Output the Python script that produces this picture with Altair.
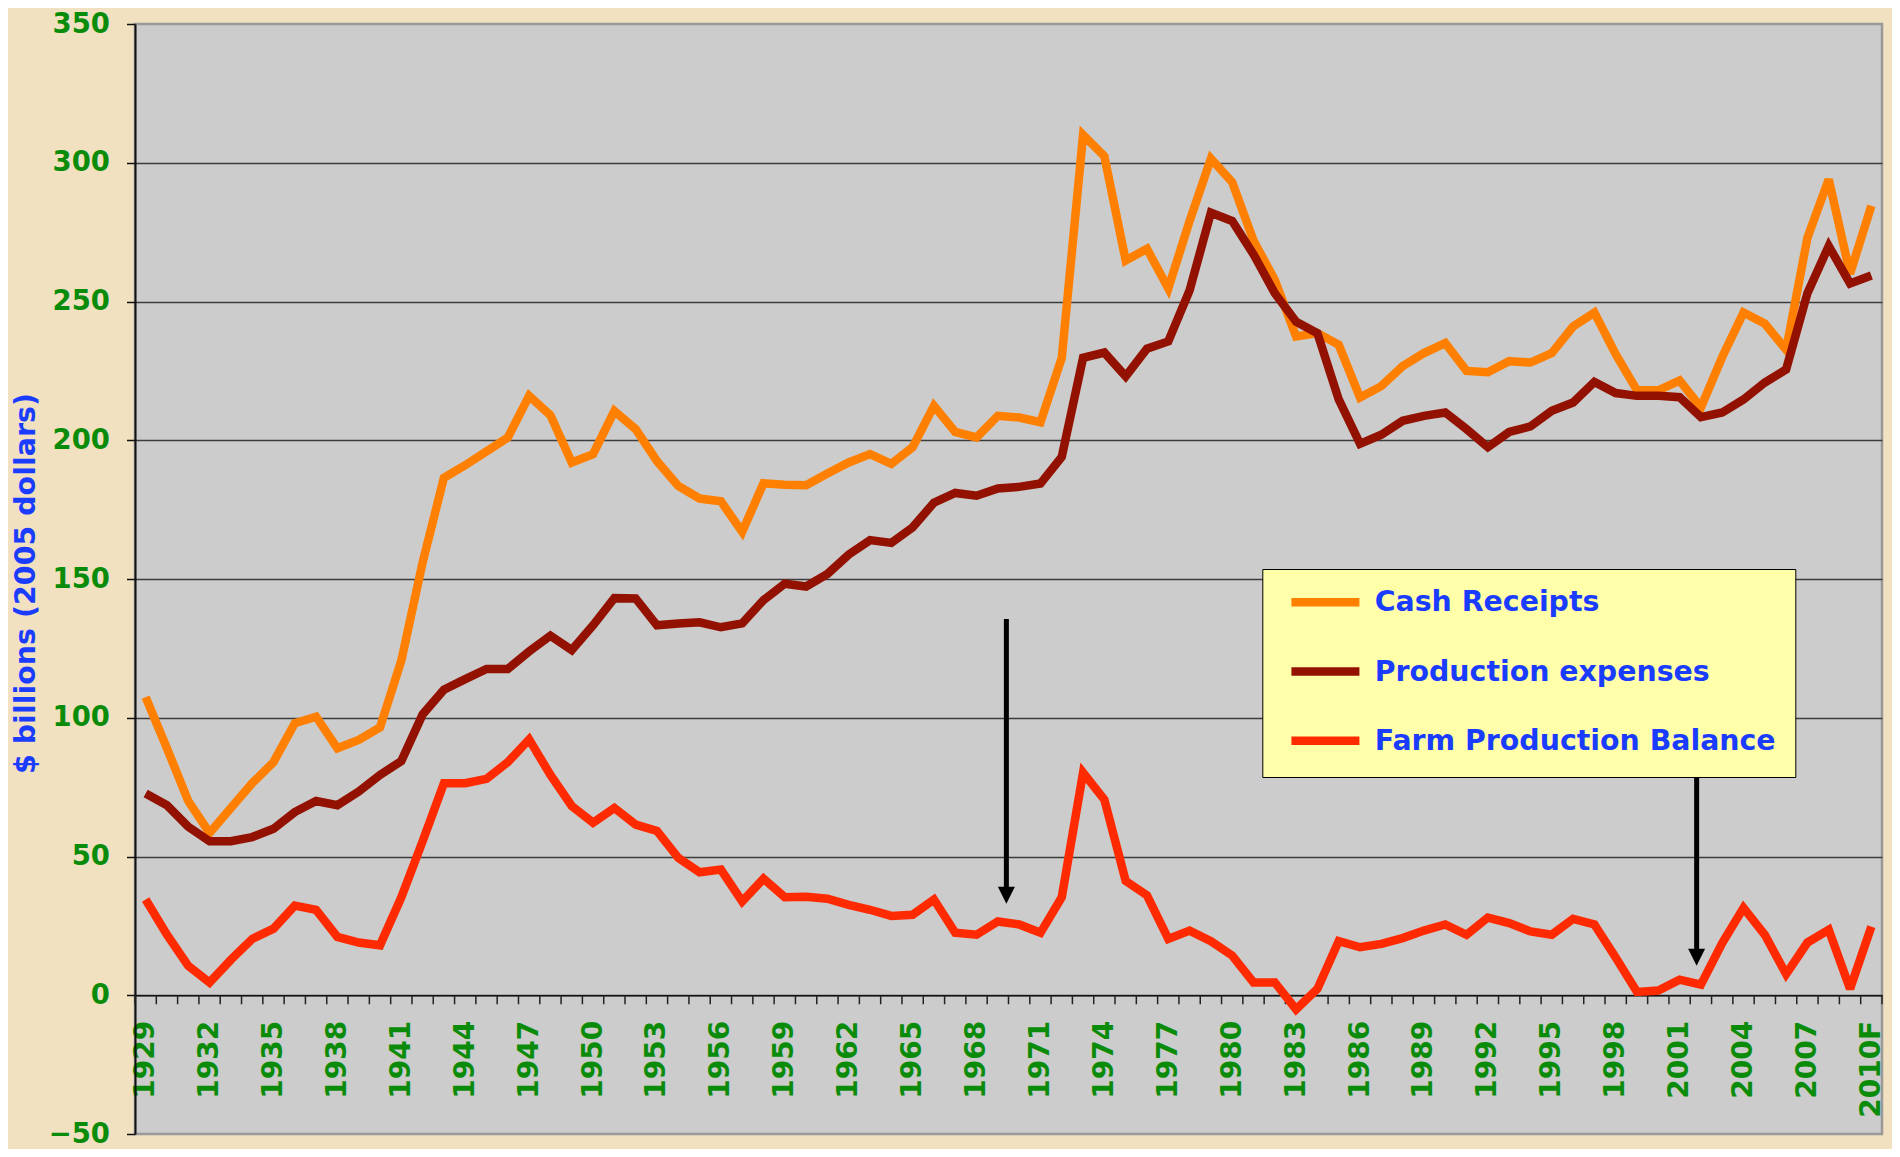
import altair as alt
import pandas as pd

# ---------------- data ----------------
years = list(range(1929, 2011))

cash_receipts = [
    107.4, 89.0, 70.0, 58.5, 67.5, 76.4, 84.0, 98.0, 100.4, 89.0,
    92.0, 96.5, 120.6, 156.0, 186.5, 191.0, 196.0, 201.0, 216.0, 209.0,
    192.0, 195.0, 210.5, 204.0, 192.5, 183.5, 179.0, 178.0, 167.0, 184.5,
    184.0, 183.8, 188.0, 192.0, 195.0, 191.5, 197.5, 212.4, 203.0, 201.0,
    208.8, 208.2, 206.5, 229.7, 310.0, 302.3, 264.8, 269.0, 254.7, 279.0,
    301.5, 293.0, 272.0, 257.7, 237.4, 238.6, 234.4, 215.4, 219.5, 226.7,
    231.4, 235.0, 225.0, 224.5, 228.5, 228.0, 231.4, 241.0, 246.0, 231.0,
    218.0, 218.0, 221.5, 211.8, 230.0, 246.0, 242.0, 232.6, 273.0, 294.0,
    260.0, 284.5,
]

production_expenses = [
    72.7, 68.5, 60.7, 55.5, 55.5, 57.0, 60.0, 66.0, 70.0, 68.5,
    73.4, 79.4, 84.4, 101.2, 110.1, 113.9, 117.6, 117.6, 123.9, 129.6,
    124.4, 133.3, 143.1, 143.0, 133.3, 134.0, 134.4, 132.6, 134.0, 142.4,
    148.3, 147.3, 151.8, 158.8, 164.0, 163.0, 168.6, 177.5, 181.0, 180.0,
    182.6, 183.2, 184.4, 194.0, 229.7, 231.6, 223.0, 233.0, 235.6, 254.0,
    282.0, 279.0, 267.0, 253.0, 242.7, 238.6, 214.7, 198.7, 202.0, 207.0,
    208.8, 210.0, 204.0, 197.5, 203.0, 205.0, 210.6, 213.6, 221.0, 217.0,
    216.0, 216.0, 215.5, 208.3, 210.0, 214.7, 220.8, 225.5, 253.0, 270.0,
    256.5, 259.4,
]

farm_balance = [
    34.5, 21.8, 10.6, 4.6, 12.8, 20.3, 24.0, 32.3, 30.8, 21.0,
    19.0, 18.0, 35.3, 55.5, 76.4, 76.4, 78.0, 84.0, 92.2, 79.4,
    68.2, 62.2, 67.5, 61.5, 59.2, 49.5, 44.3, 45.3, 33.8, 42.0,
    35.3, 35.5, 34.8, 32.6, 30.8, 28.6, 29.0, 34.5, 22.5, 21.8,
    26.6, 25.5, 22.5, 35.3, 80.2, 70.5, 41.2, 36.0, 20.3, 23.3,
    19.5, 14.3, 4.6, 4.6, -5.1, 2.3, 19.5, 17.3, 18.5, 20.6,
    23.3, 25.5, 21.8, 28.0, 26.0, 23.0, 21.8, 27.5, 25.5, 13.6,
    1.2, 1.7, 5.6, 3.8, 18.8, 31.5, 21.8, 7.6, 19.0, 23.6,
    2.3, 24.7,
]

series_names = ["Cash Receipts", "Production expenses", "Farm Production Balance"]
series_colors = ["#FF8000", "#931100", "#FF2A00"]

x_label_years = [1929, 1932, 1935, 1938, 1941, 1944, 1947, 1950, 1953, 1956,
                 1959, 1962, 1965, 1968, 1971, 1974, 1977, 1980, 1983, 1986,
                 1989, 1992, 1995, 1998, 2001, 2004, 2007, 2010]
x_label_text = [str(y) for y in x_label_years[:-1]] + ["2010F"]

y_ticks = [-50, 0, 50, 100, 150, 200, 250, 300, 350]

arrow_x = [1969.4, 2001.8]
arrow_top = [135.6, 78.4]
arrow_tip = [33.0, 10.6]

# ---------------- layout constants ----------------
W, H = 1747, 1110
FONT = "DejaVu Sans"
GREEN = "#0A8C0A"
BLUE = "#1A3CFF"

assert len(cash_receipts) == len(production_expenses) == len(farm_balance) == len(years)

rows = []
for name, vals in zip(series_names, [cash_receipts, production_expenses, farm_balance]):
    for yr, v in zip(years, vals):
        rows.append({"year": yr, "value": v, "series": name})
df = pd.DataFrame(rows)

arrows = pd.DataFrame({"year": arrow_x, "value": arrow_top, "tip": arrow_tip})

# category boundaries (Excel-style tick marks between the years)
bounds_df = pd.DataFrame({"year": [y - 0.5 for y in years] + [years[-1] + 0.5]})

pos_arr = "[" + ",".join(str(v) for v in x_label_years) + "]"
txt_arr = "[" + ",".join("'" + s + "'" for s in x_label_text) + "]"
label_expr = "indexof({p}, datum.value) >= 0 ? {t}[indexof({p}, datum.value)] : datum.label".format(
    p=pos_arr, t=txt_arr)

x_axis = alt.Axis(
    values=x_label_years, labelExpr=label_expr,
    labelAngle=270, labelFont=FONT, labelFontSize=28, labelFontWeight="bold",
    labelColor=GREEN, labelPadding=25, labelOverlap=False, labelFlush=False,
    labelBound=False, ticks=False,
    domainColor="#111111", domainWidth=1.5, grid=False, title=None,
    offset=-(H * 50 / 400),
)

y_axis = alt.Axis(
    values=y_ticks, labelFont=FONT, labelFontSize=27.5, labelFontWeight="bold",
    labelColor=GREEN, labelPadding=17, tickSize=8.5, tickColor="#111111",
    tickWidth=1.5, domainColor="#111111", domainWidth=2,
    grid=True,
    gridColor={"condition": {"test": "datum.value === 350 || datum.value === -50",
                             "value": "transparent"},
               "value": "#3c3c3c"},
    gridWidth=1.3,
    title="$ billions (2005 dollars)", titleFont=FONT, titleFontSize=28.5,
    titleFontWeight="bold", titleColor=BLUE, titleAngle=270,
    titleX=-109.5, titleY=559, titleAlign="center", titleBaseline="middle",
)

x_scale = alt.Scale(domain=[1928.5, 2010.5], nice=False, zero=False)
y_scale = alt.Scale(domain=[-50, 350], nice=False, zero=False)

lines = alt.Chart(df).mark_line(
    strokeWidth=8.5, strokeJoin="miter", strokeMiterLimit=3
).encode(
    x=alt.X("year:Q", scale=x_scale, axis=x_axis),
    y=alt.Y("value:Q", scale=y_scale, axis=y_axis),
    color=alt.Color(
        "series:N",
        scale=alt.Scale(domain=series_names, range=series_colors),
        sort=series_names,
        legend=alt.Legend(
            title=None, orient="none", legendX=1127.3, legendY=545,
            fillColor="#FFFFAA", strokeColor="#000000",
            padding=19, rowPadding=34.3, labelOffset=65,
            symbolType="M -0.48 0 L 7.52 0", symbolSize=289,
            symbolStrokeWidth=8.5, symbolOpacity=1,
            labelFont=FONT, labelFontSize=28.4, labelFontWeight="bold",
            labelColor=BLUE, labelLimit=0,
        ),
    ),
)

ticks = alt.Chart(bounds_df).mark_tick(
    orient="vertical", size=9, thickness=1.5, color="#222222", yOffset=4.5, opacity=1
).encode(
    x=alt.X("year:Q"),
    y=alt.datum(0),
)

shafts = alt.Chart(arrows).mark_rule(color="black", strokeWidth=5).transform_calculate(
    shaft_end="datum.tip + 3"
).encode(
    x=alt.X("year:Q"),
    y=alt.Y("value:Q"),
    y2=alt.Y2("shaft_end:Q"),
)

heads = alt.Chart(arrows).mark_point(
    shape="M -1 -2 L 1 -2 L 0 0 Z", size=289, filled=True,
    color="black", opacity=1, strokeWidth=0,
).encode(
    x=alt.X("year:Q"),
    y=alt.Y("tip:Q"),
)

# keep the whole page inside the 1900x1157 window (8px body margin)
chart = alt.layer(ticks, lines, shafts, heads).properties(
    width=W, height=H,
    autosize=alt.AutoSizeParams(type="none"),
    padding={"left": 127, "top": 16, "right": 10, "bottom": 15},
    background="#F1E1C1",
).configure(font=FONT).configure_view(
    fill="#CCCCCC", stroke="#999999", strokeWidth=2.5
)

chart.save("out.html", embed_options={"renderer": "svg", "actions": False})
